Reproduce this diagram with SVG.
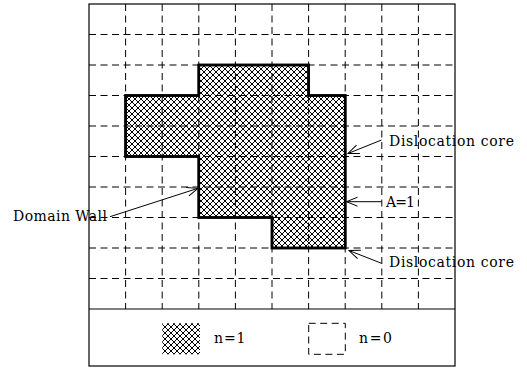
<svg xmlns="http://www.w3.org/2000/svg" width="527" height="370" viewBox="0 0 527 370">
<style>
.grid{stroke:#000;stroke-width:1;stroke-dasharray:7,4.5;fill:none}
.frame{stroke:#000;stroke-width:1.2;fill:none}
.outline{stroke:#000;stroke-width:2.5;fill:url(#hatch);stroke-linejoin:miter}
.lbl{font-family:"DejaVu Serif","Liberation Serif",serif;font-size:14px;fill:#000}
.conn{stroke:#000;stroke-width:1;fill:none;marker-end:url(#open)}
</style>
<defs>
<pattern id="hatch" width="6" height="6" patternUnits="userSpaceOnUse">
<rect width="6" height="6" fill="#fff"/>
<path d="M-1,-1L7,7M7,-1L-1,7" stroke="#000" stroke-width="1"/>
</pattern>
<marker id="open" markerUnits="userSpaceOnUse" markerWidth="14" markerHeight="12" viewBox="-12 -6 14 12" refX="0" refY="0" orient="auto">
<path d="M-11,-4.5L0,0L-11,4.5" fill="none" stroke="#000" stroke-width="1"/>
</marker>
</defs>
<rect x="0" y="0" width="527" height="370" fill="#fff"/>
<g id="domain">
<polygon class="outline" points="198.8,65 308.6,65 308.6,95.5 345.2,95.5 345.2,248 272,248 272,217.5 198.8,217.5 198.8,156.5 125.6,156.5 125.6,95.5 198.8,95.5"/>
</g>
<g id="grid">
<path class="grid" d="M89,34.5H455M89,65H455M89,95.5H455M89,126H455M89,156.5H455M89,187H455M89,217.5H455M89,248H455M89,278.5H455"/>
<path class="grid" d="M125.6,4V309M162.2,4V309M198.8,4V309M235.4,4V309M272,4V309M308.6,4V309M345.2,4V309M381.8,4V309M418.4,4V309"/>
</g>
<g id="domain-outline">
<polygon points="198.8,65 308.6,65 308.6,95.5 345.2,95.5 345.2,248 272,248 272,217.5 198.8,217.5 198.8,156.5 125.6,156.5 125.6,95.5 198.8,95.5" fill="none" stroke="#000" stroke-width="2.5"/>
</g>
<g id="frame">
<rect class="frame" x="89" y="4" width="366" height="362"/>
<line class="frame" x1="89" y1="309" x2="455" y2="309"/>
</g>
<g id="connectors">
<line class="conn" x1="381.5" y1="140" x2="348" y2="153.5"/>
<line class="conn" x1="381.5" y1="201.7" x2="346.5" y2="201.7"/>
<line class="conn" x1="381.5" y1="263.3" x2="349" y2="250.5"/>
<line class="conn" x1="110" y1="216.7" x2="198" y2="188.3"/>
</g>
<g id="label-dislocation-top"><text class="lbl" x="389" y="146" textLength="125" lengthAdjust="spacing">Dislocation core</text></g>
<g id="label-a"><text class="lbl" x="386" y="207" textLength="29" lengthAdjust="spacing">A=1</text></g>
<g id="label-dislocation-bottom"><text class="lbl" x="389" y="267" textLength="125" lengthAdjust="spacing">Dislocation core</text></g>
<g id="label-domain-wall"><text class="lbl" x="13" y="221" textLength="94" lengthAdjust="spacing">Domain Wall</text></g>
<g id="legend-n1">
<rect x="162.3" y="323.3" width="37.7" height="31" fill="url(#hatch)"/>
<text class="lbl" x="214" y="343" textLength="31.5" lengthAdjust="spacing">n=1</text>
</g>
<g id="legend-n0">
<rect x="308.7" y="323.3" width="36.6" height="31" class="grid"/>
<text class="lbl" x="359" y="343" textLength="33" lengthAdjust="spacing">n=0</text>
</g>
</svg>
